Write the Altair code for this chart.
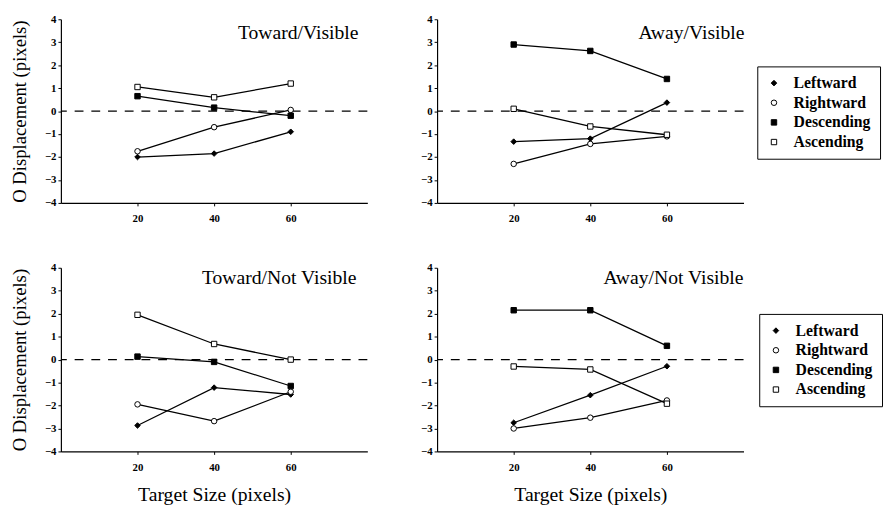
import altair as alt
import pandas as pd

# ---------------- data ----------------
target_sizes = [20, 40, 60]
series_names = ["Leftward", "Rightward", "Descending", "Ascending"]
panel_names = ["Toward/Visible", "Away/Visible", "Toward/Not Visible", "Away/Not Visible"]

toward_visible = {
    "Leftward": [-2.0, -1.85, -0.9],
    "Rightward": [-1.75, -0.7, 0.05],
    "Descending": [0.65, 0.15, -0.2],
    "Ascending": [1.05, 0.6, 1.2],
}
away_visible = {
    "Leftward": [-1.33, -1.2, 0.37],
    "Rightward": [-2.3, -1.43, -1.1],
    "Descending": [2.9, 2.62, 1.4],
    "Ascending": [0.1, -0.67, -1.03],
}
toward_not_visible = {
    "Leftward": [-2.87, -1.22, -1.52],
    "Rightward": [-1.95, -2.68, -1.4],
    "Descending": [0.13, -0.1, -1.15],
    "Ascending": [1.95, 0.68, 0.0],
}
away_not_visible = {
    "Leftward": [-2.75, -1.55, -0.29],
    "Rightward": [-3.0, -2.53, -1.78],
    "Descending": [2.15, 2.15, 0.6],
    "Ascending": [-0.3, -0.43, -1.92],
}

y_ticks = [-4, -3, -2, -1, 0, 1, 2, 3, 4]
x_ticks = [20, 40, 60]
zero_line = [0]

SERIF = "Liberation Serif"
W, H = 312, 187


def make_df(values):
    rows = []
    for s in series_names:
        for x, v in zip(target_sizes, values[s]):
            rows.append({"size": x, "series": s, "value": v})
    return pd.DataFrame(rows)


def panel(name, values, y_title, x_title, legend_pos, title_dx, title_y):
    df = make_df(values)
    x = alt.X(
        "size:Q",
        scale=alt.Scale(domain=[0, 80], nice=False, zero=False),
        axis=alt.Axis(
            values=x_ticks, format="d", title=x_title, grid=False,
            tickSize=3, labelPadding=7, minExtent=20, maxExtent=20,
            titlePadding=14, labelOverlap=False,
        ),
    )
    y = alt.Y(
        "value:Q",
        scale=alt.Scale(domain=[-4, 4], nice=False),
        axis=alt.Axis(
            values=y_ticks, format="d", title=y_title, grid=False,
            tickSize=3, labelPadding=2, minExtent=14, maxExtent=14,
            titlePadding=18, labelOverlap=False,
        ),
    )
    if legend_pos is not None:
        leg = alt.Legend(
            orient="none", legendX=legend_pos[0], legendY=legend_pos[1],
            title=None, strokeColor="black", padding=9,
            labelFont=SERIF, labelFontWeight="bold", labelFontSize=16,
            labelColor="black", rowPadding=4, labelOffset=12,
            symbolStrokeWidth=1,
        )
    else:
        leg = None
    shape = alt.Shape(
        "series:N",
        scale=alt.Scale(domain=series_names,
                        range=["diamond", "circle", "square", "square"]),
        legend=leg,
    )
    fill = alt.Fill(
        "series:N",
        scale=alt.Scale(domain=series_names,
                        range=["black", "white", "black", "white"]),
        legend=leg,
    )
    stroke = alt.Stroke(
        "series:N",
        scale=alt.Scale(domain=series_names,
                        range=["black", "black", "black", "black"]),
        legend=leg,
    )
    size = alt.Size(
        "series:N",
        scale=alt.Scale(domain=series_names, range=[32, 30, 46, 46]),
        legend=leg,
    )
    zero = alt.Chart(pd.DataFrame({"value": zero_line})).mark_rule(
        color="black", strokeWidth=1.2, strokeDash=[9, 8]
    ).encode(y=y)
    lines = alt.Chart(df).mark_line(color="black", strokeWidth=1.3).encode(
        x=x, y=y, detail="series:N", order="size:Q"
    )
    pts = alt.Chart(df).mark_point(
        filled=True, strokeWidth=1, opacity=1
    ).encode(x=x, y=y, shape=shape, fill=fill, stroke=stroke, size=size)
    title = alt.Chart(pd.DataFrame({"t": [name]})).mark_text(
        font=SERIF, fontSize=20, align="right", baseline="middle", color="black"
    ).encode(text="t:N", x=alt.value(W - title_dx), y=alt.value(title_y))
    return alt.layer(lines, zero, pts, title).properties(width=W, height=H)


p1 = panel(panel_names[0], toward_visible, "O Displacement (pixels)", None, None, 9, 14)
p2 = panel(panel_names[1], away_visible, None, None, (326, 48), -1, 14)
p3 = panel(panel_names[2], toward_not_visible, "O Displacement (pixels)",
           "Target Size (pixels)", None, 11, 11)
p4 = panel(panel_names[3], away_not_visible, None, "Target Size (pixels)",
           (328, 47), 0, 11)

res = dict(shape="independent", fill="independent", stroke="independent", size="independent")
row1 = alt.hconcat(p1, p2, spacing=53).resolve_legend(**res).resolve_scale(**res)
row2 = alt.hconcat(p3, p4, spacing=53).resolve_legend(**res).resolve_scale(**res)

chart = alt.vconcat(row1, row2, spacing=39).resolve_legend(**res).resolve_scale(**res).properties(
    padding={"left": 11, "top": 9, "right": 0, "bottom": 0},
    background="white",
).configure_view(stroke=None).configure_axis(
    grid=False, domainColor="black", tickColor="black", domainWidth=1.2,
    labelFont=SERIF, labelFontWeight="bold", labelFontSize=11, labelColor="black",
    titleFont=SERIF, titleFontSize=19, titleFontWeight="normal", titleColor="black",
).configure_axisBottom(titleFontSize=20)

chart.save("out.html", embed_options={"renderer": "svg", "actions": False})
